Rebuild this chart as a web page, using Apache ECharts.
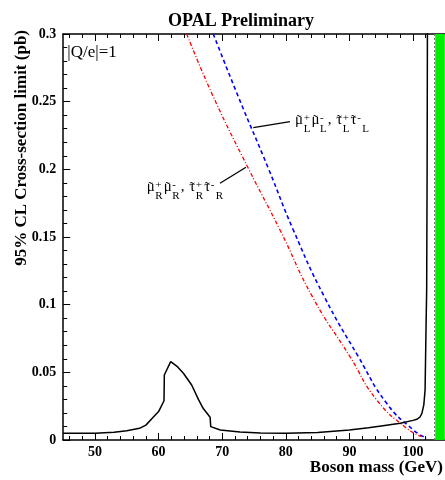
<!DOCTYPE html>
<html>
<head>
<meta charset="utf-8">
<script src="https://cdn.jsdelivr.net/npm/echarts@6/dist/echarts.min.js"></script>
<style>
  html, body { margin: 0; padding: 0; background: #fff; }
  #chart { width: 445px; height: 480px; }
</style>
</head>
<body>
<div id="chart"></div>
<script>
// Observed 95% CL upper limit on the cross-section (pb) vs boson mass (GeV)
const massObserved  = [45, 50, 53, 55, 57, 58, 59, 60, 60.85, 60.9, 61.9, 63.0, 63.9, 65.2, 66.3, 67.0, 68.1, 68.2, 69.7, 72.8, 76, 80, 85, 90, 93, 95, 98, 100, 100.6, 101.1, 101.4, 101.7, 101.9, 102.06, 102.15, 102.22, 102.27];
const limitObserved = [0.0049, 0.005, 0.0057, 0.0069, 0.0086, 0.011, 0.016, 0.021, 0.029, 0.048, 0.0579, 0.054, 0.0493, 0.0406, 0.0296, 0.0234, 0.0168, 0.0099, 0.0074, 0.0059, 0.0052, 0.0049, 0.0055, 0.0074, 0.009, 0.0103, 0.0123, 0.0145, 0.0153, 0.017, 0.0197, 0.026, 0.037, 0.086, 0.111, 0.2, 0.31];

// Predicted cross-sections for left-handed smuon / stau pairs
const massL = [68.6, 72.53, 77.25, 81.18, 86.05, 91.4, 95.86, 100.05, 102.15];
const xsecL = [0.300, 0.2537, 0.2008, 0.1552, 0.1059, 0.0616, 0.0271, 0.0074, 0.0013];

// Predicted cross-sections for right-handed smuon / stau pairs
const massR = [64.42, 68.6, 74.1, 79.09, 84.32, 90.09, 94.29, 99.01, 101.37];
const xsecR = [0.300, 0.2537, 0.2008, 0.1552, 0.1047, 0.0616, 0.0296, 0.0086, 0.0024];

// Kinematic limit and excluded region
const kinematicLimit = 103.3;
const excludedBand = [103.5, 105];

// Axis ranges and ticks
const xRange = [45, 105];
const yRange = [0, 0.3];
const xMajorTicks = [50, 60, 70, 80, 90, 100];
const xMinorTicks = [46, 48, 52, 54, 56, 58, 62, 64, 66, 68, 72, 74, 76, 78, 82, 84, 86, 88, 92, 94, 96, 98, 102, 104];
const yStep = 0.05;

// Annotation anchors (data coordinates)
const arrowL = { from: [80.66, 0.2352], to: [74.89, 0.2308] };
const arrowR = { from: [69.65, 0.1897], to: [73.74, 0.2015] };
const labelLAnchor = [81.45, 0.2328];
const labelRAnchor = [58.13, 0.1833];

const SERIF = '"Liberation Serif", "Times New Roman", Times, serif';

const chart = echarts.init(document.getElementById('chart'), null, { renderer: 'canvas' });

function zip(xs, ys) { return xs.map((x, i) => [x, ys[i]]); }

function xAxisDef(position, ticks, len, withLine, withLabels) {
  return {
    type: 'value', position: position, min: xRange[0], max: xRange[1],
    axisLine: { show: withLine, onZero: false, lineStyle: { color: '#000', width: 1.5 } },
    axisTick: { show: true, inside: true, length: len, customValues: ticks, lineStyle: { color: '#000', width: 1 } },
    axisLabel: withLabels ? {
      show: true, customValues: ticks, margin: 5,
      fontFamily: SERIF, fontWeight: 'bold', fontSize: 14, color: '#000'
    } : { show: false },
    splitLine: { show: false }
  };
}

const option = {
  animation: false,
  backgroundColor: '#fff',
  grid: { left: 63.2, right: 0.2, top: 34, bottom: 40, containLabel: false, outerBoundsMode: 'none' },
  xAxis: [
    xAxisDef('bottom', xMajorTicks, 7, true, true),
    xAxisDef('bottom', xMinorTicks, 4, false, false),
    xAxisDef('top', xMajorTicks, 7, true, false),
    xAxisDef('top', xMinorTicks, 4, false, false)
  ],
  yAxis: [{
    type: 'value', min: yRange[0], max: yRange[1], interval: yStep,
    axisLine: { show: true, onZero: false, lineStyle: { color: '#000', width: 1.5 } },
    axisTick: { show: true, inside: true, length: 7, lineStyle: { color: '#000', width: 1 } },
    minorTick: { show: true, splitNumber: 5, length: 4, lineStyle: { color: '#000', width: 1 } },
    axisLabel: {
      margin: 7, fontFamily: SERIF, fontWeight: 'bold', fontSize: 14, color: '#000',
      formatter: v => String(+v.toFixed(3))
    },
    splitLine: { show: false }
  }],
  series: [
    {
      name: 'observed', type: 'line', xAxisIndex: 0, yAxisIndex: 0,
      data: zip(massObserved, limitObserved), showSymbol: false, symbol: 'none',
      lineStyle: { color: '#000', width: 1.5 }, z: 4,
      markArea: {
        silent: true,
        itemStyle: { color: '#00ee00', opacity: 1 },
        data: [[{ xAxis: excludedBand[0] }, { xAxis: excludedBand[1] }]]
      },
      markLine: {
        silent: true, symbol: 'none', label: { show: false },
        lineStyle: { color: '#777', width: 1, type: [2, 2] },
        data: [{ xAxis: kinematicLimit }]
      }
    },
    {
      name: 'L', type: 'line', xAxisIndex: 0, yAxisIndex: 0,
      data: zip(massL, xsecL), showSymbol: false, symbol: 'none',
      smooth: 0.5,
      lineStyle: { color: '#0000ff', width: 1.6, type: [4, 3] }, z: 3,
      markLine: {
        silent: true, symbol: ['none', 'arrow'], symbolSize: [0, 10],
        label: { show: false },
        lineStyle: { color: '#000', width: 1.3, type: 'solid' },
        data: [[{ coord: arrowL.from }, { coord: arrowL.to }]]
      }
    },
    {
      name: 'R', type: 'line', xAxisIndex: 0, yAxisIndex: 0,
      data: zip(massR, xsecR), showSymbol: false, symbol: 'none',
      smooth: 0.5,
      lineStyle: { color: '#ff0000', width: 1.3, type: [4, 2, 1, 2] }, z: 3,
      markLine: {
        silent: true, symbol: ['none', 'arrow'], symbolSize: [0, 10],
        label: { show: false },
        lineStyle: { color: '#000', width: 1.3, type: 'solid' },
        data: [[{ coord: arrowR.from }, { coord: arrowR.to }]]
      }
    }
  ]
};

chart.setOption(option);

// ---- text layout helpers ----
const measureCtx = document.createElement('canvas').getContext('2d');
function textWidth(s, font) { measureCtx.font = font; return measureCtx.measureText(s).width; }

// place text so that its alphabetic baseline sits at y
function baselineText(str, x, y, size, weight, align, extra) {
  return Object.assign({
    type: 'text', x: x, y: y - 0.3 * size, silent: true,
    style: {
      text: str, fill: '#000', align: align || 'left', verticalAlign: 'middle',
      font: (weight || 'normal') + ' ' + size + 'px ' + SERIF
    }
  }, extra || {});
}

// particle label with tilde, stacked superscript / subscript
function particleLabel(tokens, x0, y0) {
  const mainSize = 15, scriptSize = 11;
  const mainFont = 'normal ' + mainSize + 'px ' + SERIF;
  const scriptFont = 'normal ' + scriptSize + 'px ' + SERIF;
  const els = [];
  let x = x0;
  tokens.forEach(t => {
    if (t.plain) {
      els.push(baselineText(t.plain, x, y0, mainSize));
      x += textWidth(t.plain, mainFont) + 1;
      return;
    }
    const w = textWidth(t.base, mainFont);
    els.push(baselineText(t.base, x, y0, mainSize));
    els.push(baselineText('\u02DC', x + w / 2, y0 + 0.5, mainSize, 'normal', 'center'));
    x += w + 0.6;
    const wSup = textWidth(t.sup, scriptFont);
    const subDx = t.subDx || 0;
    const wSub = textWidth(t.sub, scriptFont) + subDx;
    els.push(baselineText(t.sup, x, y0 - 3.5, scriptSize));
    els.push(baselineText(t.sub, x + subDx, y0 + 7.5, scriptSize));
    x += Math.max(wSup, wSub) + 1;
  });
  return els;
}

function drawAnnotations() {
  const pL = chart.convertToPixel({ gridIndex: 0 }, labelLAnchor);
  const pR = chart.convertToPixel({ gridIndex: 0 }, labelRAnchor);
  const mu = '\u03BC', tau = '\u03C4';
  const tokensL = [
    { base: mu, sup: '+', sub: 'L' }, { base: mu, sup: '-', sub: 'L' }, { plain: ', ' },
    { base: tau, sup: '+', sub: 'L' }, { base: tau, sup: '-', sub: 'L', subDx: 5 }
  ];
  const tokensR = [
    { base: mu, sup: '+', sub: 'R' }, { base: mu, sup: '-', sub: 'R' }, { plain: ', ' },
    { base: tau, sup: '+', sub: 'R' }, { base: tau, sup: '-', sub: 'R', subDx: 5 }
  ];

  const yTitle = baselineText('95% CL Cross-section limit (pb)', 0, 0, 17, 'bold', 'right', { rotation: Math.PI / 2 });
  // rotated: the baseline offset runs along x
  yTitle.x = 27 - 0.3 * 17;
  yTitle.y = 30;

  const elements = [
    baselineText('OPAL Preliminary', 241, 27, 18, 'bold', 'center'),
    baselineText('Boson mass (GeV)', 443, 473, 17, 'bold', 'right'),
    yTitle,
    baselineText('|Q/e|=1', 67.3, 58, 17, 'normal', 'left')
  ].concat(particleLabel(tokensL, pL[0], pL[1]))
   .concat(particleLabel(tokensR, pR[0], pR[1]));

  chart.setOption({ graphic: { elements: elements } });
}

drawAnnotations();
</script>
</body>
</html>
